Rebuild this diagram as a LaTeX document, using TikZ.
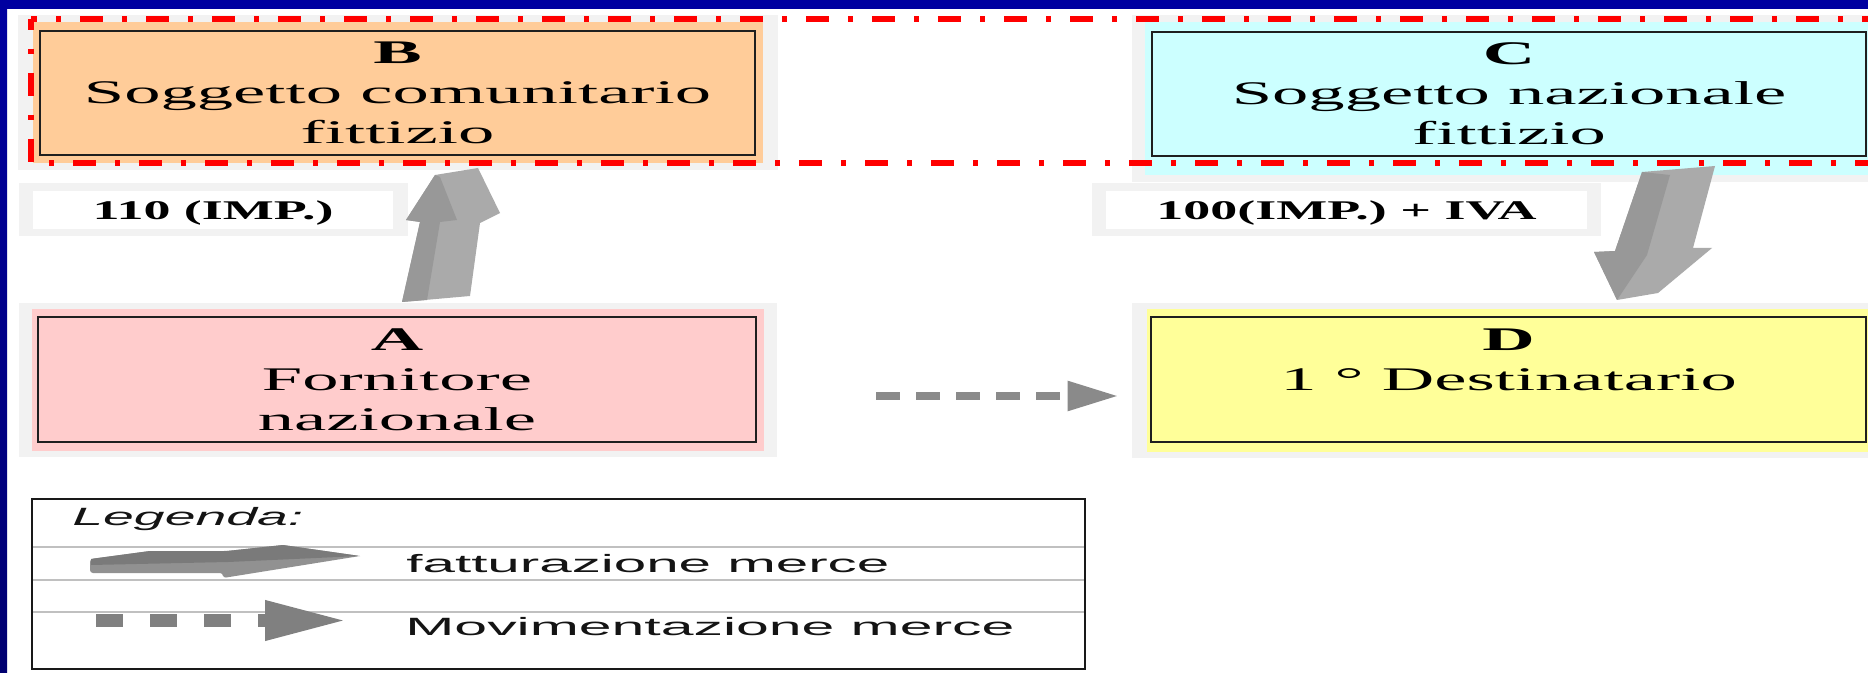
\documentclass[tikz,border=0pt]{standalone}
\usepackage{fontspec}
\usepackage{graphicx}
\setmainfont{Liberation Serif}
\newfontfamily\legfont{Liberation Sans}
\usetikzlibrary{arrows.meta}
\definecolor{slideblue}{RGB}{0,0,160}
\definecolor{slideblue2}{RGB}{0,0,112}
\definecolor{framegray}{RGB}{242,242,242}
\definecolor{bfill}{RGB}{255,204,153}
\definecolor{cfill}{RGB}{204,255,255}
\definecolor{afill}{RGB}{255,204,204}
\definecolor{dfill}{RGB}{255,255,153}
\definecolor{dashred}{RGB}{255,0,0}
\definecolor{arrdark}{RGB}{152,152,152}
\definecolor{arrlight}{RGB}{170,170,170}
\definecolor{movgray}{RGB}{138,138,138}
\definecolor{legdark}{RGB}{122,122,122}
\definecolor{leglight}{RGB}{145,145,145}
\definecolor{rulegray}{RGB}{192,192,192}
\newcommand{\boxstretch}[1]{\scalebox{2.2}[1]{#1}}
\newcommand{\labstretch}[1]{\scalebox{2.0}[1]{#1}}
\begin{document}
\begin{tikzpicture}[x=0.5pt,y=-0.5pt,
  entity/.style={draw=black!88, line width=1.4pt, inner sep=0pt, align=center,
    text=black, font=\fontsize{16.5}{20}\selectfont},
  amountlab/.style={fill=white, inner sep=0pt, text height=10pt, text depth=0pt,
    minimum height=19pt, font=\bfseries\fontsize{13.5}{16}\selectfont},
  legtext/.style={inner sep=0pt, anchor=base west, text=black!92,
    font=\legfont\fontsize{12.5}{15}\selectfont},
  redframe/.style={dashred, line width=2.6pt,
    dash pattern=on 11.5pt off 9.5pt on 2.5pt off 9.5pt},
  movarrow/.style={movgray, line width=4.25pt, dash pattern=on 12pt off 8pt,
    -{Triangle[length=25.5pt,width=14pt]}}
]
\useasboundingbox (0,0) rectangle (1868,673);
\fill[white] (0,0) rectangle (1868,673);
% slide border
\fill[slideblue] (0,0) rectangle (1868,9);
\shade[top color=slideblue, bottom color=slideblue2] (0,0) rectangle (7,673);

% frames and fills
\fill[framegray] (18,15) rectangle (778,170);
\fill[bfill] (33,22) rectangle (763,163);
\fill[framegray] (1132,15) rectangle (1868,182);
\fill[cfill] (1145,22) rectangle (1868,175);
\fill[framegray] (19,303) rectangle (777,457);
\fill[afill] (32,309) rectangle (764,451);
\fill[framegray] (1132,303) rectangle (1868,458);
\fill[dfill] (1147,309) rectangle (1868,452);

% entities
\node[entity, fill=bfill, minimum width=357.5pt, minimum height=62pt] (B) at (397.5,93)
  {\boxstretch{\textbf{B}}\\\boxstretch{Soggetto comunitario}\\\boxstretch{fittizio}};
\node[entity, fill=cfill, minimum width=357pt, minimum height=62pt] (C) at (1509,94)
  {\boxstretch{\textbf{C}}\\\boxstretch{Soggetto nazionale}\\\boxstretch{fittizio}};
\node[entity, fill=afill, minimum width=359pt, minimum height=62.5pt] (A) at (397,379.5)
  {\boxstretch{\textbf{A}}\\\boxstretch{Fornitore}\\\boxstretch{nazionale}};
\node[entity, fill=dfill, minimum width=357.5pt, minimum height=62.5pt] (D) at (1508.5,379.5)
  {\boxstretch{\textbf{D}}\\\boxstretch{1 ° Destinatario}\\\mbox{}};

% amount labels
\fill[framegray] (19,183) rectangle (408,236);
\node[amountlab, minimum width=180pt] (l1) at (213,210) {\labstretch{110 (IMP.)}};
\fill[framegray] (1092,183) rectangle (1601,236);
\node[amountlab, minimum width=240.5pt] (l2) at (1346.5,210) {\labstretch{100(IMP.) + IVA}};

% red dash-dot frame
\draw[redframe, dash phase=8.5pt] (31,19) -- (1890,19);
\draw[redframe, dash phase=6pt] (31,19) -- (31,163) -- (1890,163);

% invoicing arrow A -> B (3D block)
\fill[arrlight] (435,175) -- (478,168) -- (500,213) -- (480,223) -- (470,296)
  -- (402,302) -- (420,222) -- (406,220) -- cycle;
\fill[arrdark] (435,175) -- (440,177) -- (457,220) -- (440,222) -- (427,300)
  -- (402,302) -- (420,222) -- (406,220) -- cycle;

% invoicing arrow C -> D (3D block)
\fill[arrlight] (1642,172) -- (1715,166) -- (1693,248) -- (1712,248) -- (1658,293)
  -- (1617,300) -- (1594,252) -- (1615,251) -- cycle;
\fill[arrdark] (1642,172) -- (1670,175) -- (1647,255) -- (1617,300) -- (1594,252)
  -- (1615,251) -- cycle;

% goods movement A -> D
\draw[movarrow] ([xshift=59.5pt,yshift=-8.25pt]A.east) -- ([xshift=-15.5pt,yshift=-8.25pt]D.west);

% legend
\draw[black!90, line width=1.35pt] (32,499) rectangle (1085,669);
\draw[rulegray, line width=1pt] (33,546.5) -- (1084,546.5);
\draw[rulegray, line width=1pt] (33,580) -- (1084,580);
\draw[rulegray, line width=1pt] (33,611.5) -- (1084,611.5);
\node[legtext] (lg) at (72,525) {\resizebox{115.5pt}{\height}{\itshape Legenda:}};
\node[legtext] (lf) at (406,572) {\resizebox{241.5pt}{\height}{fatturazione merce}};
\node[legtext] (lmv) at (405,635) {\resizebox{304.5pt}{\height}{Movimentazione merce}};
% legend block arrow
\fill[leglight, rounded corners=1.5pt] (90,559) -- (150,551) -- (227,551) -- (283,545)
  -- (360,556) -- (223,578) -- (223,573) -- (90,573) -- cycle;
\fill[legdark] (91,559) -- (150,551) -- (227,551) -- (283,545) -- (360,556)
  -- (228,562) -- (91,565) -- cycle;
% legend dotted arrow
\coordinate (ls) at (96,620.5);
\coordinate (le) at (347,620.5);
\draw[movgray!93!black, line width=6.5pt, dash pattern=on 13.5pt off 13.5pt,
  -{Triangle[length=41pt,width=18.5pt]}] (ls) -- (le);
\end{tikzpicture}
\end{document}
